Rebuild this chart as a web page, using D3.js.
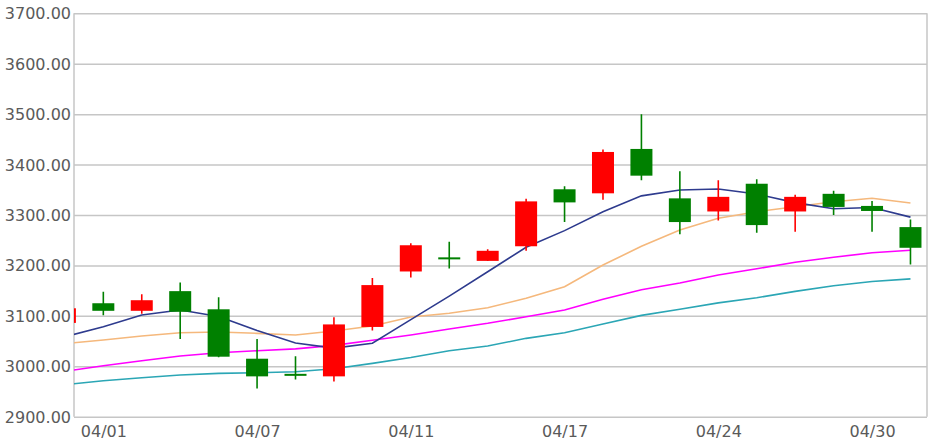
<!DOCTYPE html>
<html><head><meta charset="utf-8">
<script src="https://cdn.jsdelivr.net/npm/d3@7"></script>
<style>
html,body{margin:0;padding:0;background:#fff;}
svg{display:block;}
</style></head>
<body>
<svg id="chart" width="932" height="441"></svg>
<script>
const dates = ["03/31","04/01","04/02","04/03","04/04","04/07","04/08","04/09","04/10","04/11","04/14","04/15","04/16","04/17","04/21","04/22","04/23","04/24","04/25","04/28","04/29","04/30","05/02"];
const openV  = [3086,3125,3110,3149,3113,3015,2985,2980,3078,3188,3216,3209,3238,3351,3343,3431,3333,3307,3362,3307,3342,3318,3276];
const closeV = [3115,3110,3131,3108,3019,2980,2983,3083,3161,3240,3213,3229,3327,3325,3425,3378,3286,3336,3280,3336,3316,3308,3235];
const highV  = [3118,3148,3143,3166,3137,3054,3020,3097,3175,3244,3247,3232,3332,3357,3430,3500,3387,3369,3371,3340,3348,3328,3291];
const lowV   = [3085,3101,3104,3054,3018,2956,2974,2970,3071,3176,3194,3209,3229,3286,3330,3369,3262,3289,3265,3267,3300,3267,3202];
const ma5  = [3058.6,3078.4,3101.6,3111.6,3098.6,3070.9,3046.1,3036.0,3045.8,3092.5,3139.0,3187.5,3236.0,3269.0,3306.5,3338.0,3349.6,3351.5,3341.5,3324.5,3312.5,3315.0,3295.8];
const ma10 = [3045.1,3052.1,3060.0,3066.5,3067.9,3065.3,3062.0,3069.9,3079.8,3097.7,3105.0,3116.1,3134.8,3157.8,3200.8,3237.9,3270.2,3293.4,3306.5,3316.4,3326.3,3333.1,3323.8];
const ma20 = [2990.0,3001.1,3011.0,3020.3,3026.9,3030.8,3034.6,3041.5,3051.5,3062.0,3073.9,3085.2,3098.3,3111.6,3132.8,3151.8,3165.1,3181.0,3193.3,3206.4,3216.3,3225.0,3230.2];
const ma30 = [2963.6,2971.3,2977.3,2982.6,2986.0,2987.2,2989.0,2995.1,3005.8,3017.3,3030.8,3040.2,3055.4,3066.5,3083.8,3101.0,3113.0,3125.8,3136.0,3148.6,3159.6,3168.1,3173.4];
const yTicks = [2900,3000,3100,3200,3300,3400,3500,3600,3700];
const xTickLabels = ["04/01","04/07","04/11","04/17","04/24","04/30"];

const svg = d3.select("#chart");
const L = 74, R = 927, T = 13.3, B = 416.7;
const x = d3.scaleLinear().domain([0.237, 22.43]).range([L, R]);
const y = d3.scaleLinear().domain([2900, 3700]).range([B, T]);
const font = "'DejaVu Sans', Verdana, sans-serif";

svg.append("defs").append("clipPath").attr("id","plot")
  .append("rect").attr("x",L).attr("y",T-2).attr("width",R-L).attr("height",B-T+4);

// grid + y axis
const yAxis = d3.axisLeft(y).tickValues(yTicks).tickFormat(d3.format(".2f")).tickSize(-(R-L)).tickPadding(3);
const gy = svg.append("g").attr("transform",`translate(${L},0)`).call(yAxis);
gy.select(".domain").remove();
gy.selectAll(".tick line").attr("stroke","#c6c6c6").attr("stroke-width",1.5);
gy.selectAll(".tick text").attr("fill","#5a5a5a").style("font-family",font).style("font-size","16px").attr("dy","0.34em");

// frame
svg.append("line").attr("x1",L).attr("x2",L).attr("y1",T).attr("y2",B).attr("stroke","#c6c6c6").attr("stroke-width",1.5);
svg.append("line").attr("x1",R).attr("x2",R).attr("y1",T).attr("y2",B).attr("stroke","#c6c6c6").attr("stroke-width",1.5);

// x axis labels
const xAxis = d3.axisBottom(x)
  .tickValues(xTickLabels.map(l => dates.indexOf(l)))
  .tickFormat(i => dates[i]).tickSize(0).tickPadding(9);
const gx = svg.append("g").attr("transform",`translate(0,${B})`).call(xAxis);
gx.select(".domain").remove();
gx.selectAll(".tick text").attr("fill","#5a5a5a").style("font-family",font).style("font-size","16px");

const plot = svg.append("g").attr("clip-path","url(#plot)");

// MA lines
const maSeries = [
  {v: ma30, c: "#2ba6b5"},
  {v: ma20, c: "#ff00ff"},
  {v: ma10, c: "#f5b87c"},
  {v: ma5,  c: "#2e3b8e"}
];
const line = d3.line().x((d,i)=>x(i)).y(d=>y(d));
maSeries.forEach(s => {
  plot.append("path").attr("d", line(s.v)).attr("fill","none").attr("stroke", s.c).attr("stroke-width",1.6);
});

// candles
const bw = 22;
const idx = d3.range(dates.length);
const cg = plot.selectAll("g.candle").data(idx).join("g").attr("class","candle");
const col = i => closeV[i] >= openV[i] ? "#ff0000" : "#008000";
cg.append("line")
  .attr("x1", i => x(i)).attr("x2", i => x(i))
  .attr("y1", i => y(highV[i])).attr("y2", i => y(lowV[i]))
  .attr("stroke", col).attr("stroke-width", 1.6);
cg.append("rect")
  .attr("x", i => x(i) - bw/2)
  .attr("width", bw)
  .attr("y", i => y(Math.max(openV[i], closeV[i])))
  .attr("height", i => Math.max(2, Math.abs(y(openV[i]) - y(closeV[i]))))
  .attr("fill", col);
</script>
</body></html>
